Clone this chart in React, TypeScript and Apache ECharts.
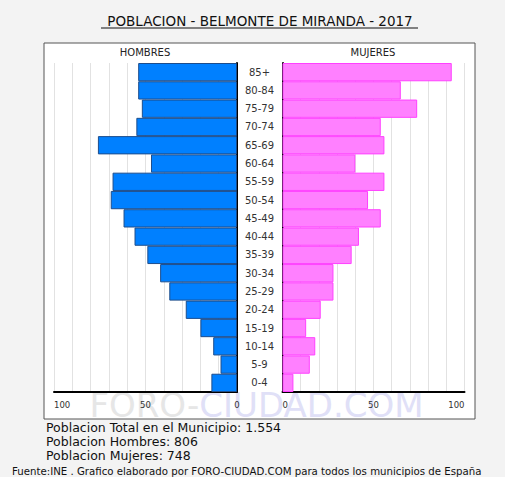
import React, { useEffect, useRef } from "react";
import * as echarts from "echarts";

const ageGroups = ["0-4","5-9","10-14","15-19","20-24","25-29","30-34","35-39","40-44","45-49","50-54","55-59","60-64","65-69","70-74","75-79","80-84","85+"];
const hombres = [14, 9, 13, 20, 28, 37, 42, 49, 56, 62, 69, 68, 47, 76, 55, 52, 54, 54];
const mujeres = [6, 15, 18, 13, 21, 28, 28, 38, 42, 54, 47, 56, 40, 56, 54, 74, 65, 93];
const axisTicks = [0, 50, 100];
const titleText = "POBLACION - BELMONTE DE MIRANDA - 2017";
const infoLines = ["Poblacion Total en el Municipio: 1.554", "Poblacion Hombres: 806", "Poblacion Mujeres: 748"];
const footer = "Fuente:INE . Grafico elaborado por FORO-CIUDAD.COM para todos los municipios de España";

const FONT = "DejaVu Sans, Verdana, sans-serif";

export default function App() {
  const ref = useRef<HTMLDivElement>(null);
  useEffect(() => {
    if (!ref.current) return;
    const chart = echarts.init(ref.current, undefined, { renderer: "svg" });
    const labelFmt = (v: number) => (axisTicks.indexOf(v) >= 0 ? String(v) : "");
    const xCommon = {
      type: "value",
      min: 0,
      max: 100,
      interval: 10,
      axisTick: { show: false },
      axisLine: { show: true, lineStyle: { color: "#000", width: 2 } },
      splitLine: { show: true, lineStyle: { color: "#e2e2e2", width: 1 } },
      axisLabel: { formatter: labelFmt, fontSize: 8.5, color: "#333", fontFamily: FONT, margin: 8 },
    };
    chart.setOption({
      animation: false,
      backgroundColor: "#f3f3f3",
      graphic: [
        { type: "rect", z: -10, shape: { x: 44, y: 43, width: 431, height: 376 }, style: { fill: "#fff", stroke: "#555", lineWidth: 1 } },
        {
          type: "text", z: -5, x: 256.5, y: 405,
          style: {
            text: "{a|FORO-}{b|CIUDAD.COM}", align: "center", verticalAlign: "middle",
            rich: {
              a: { fontSize: 34, fontFamily: FONT, fill: "#e6e6e6" },
              b: { fontSize: 34, fontFamily: FONT, fill: "#e0e0f7" },
            },
          },
        },
        { type: "text", x: 260, y: 21, style: { text: titleText, fontSize: 13.5, fontFamily: FONT, fill: "#111", align: "center", verticalAlign: "middle" } },
        { type: "line", shape: { x1: 101, y1: 28, x2: 418, y2: 28 }, style: { stroke: "#111", lineWidth: 1.2 } },
        { type: "text", x: 145, y: 52, style: { text: "HOMBRES", fontSize: 10, fontFamily: FONT, fill: "#222", align: "center", verticalAlign: "middle" } },
        { type: "text", x: 373, y: 52, style: { text: "MUJERES", fontSize: 10, fontFamily: FONT, fill: "#222", align: "center", verticalAlign: "middle" } },
        ...infoLines.map((t, i) => ({
          type: "text", x: 46, y: 427 + i * 14.2,
          style: { text: t, fontSize: 12.5, fontFamily: FONT, fill: "#111", align: "left", verticalAlign: "middle" },
        })),
        { type: "text", x: 12, y: 471, style: { text: footer, fontSize: 10.2, fontFamily: FONT, fill: "#111", align: "left", verticalAlign: "middle" } },
      ],
      grid: [
        { left: 54, right: 268, top: 63, bottom: 85 },
        { left: 282.5, right: 40.5, top: 63, bottom: 85 },
      ],
      xAxis: [
        { ...xCommon, gridIndex: 0, inverse: true, axisLabel: { ...xCommon.axisLabel, alignMaxLabel: "left" } },
        { ...xCommon, gridIndex: 1, axisLabel: { ...xCommon.axisLabel, alignMinLabel: "left", alignMaxLabel: "right" } },
      ],
      yAxis: [
        {
          type: "category", gridIndex: 0, data: ageGroups, position: "right",
          axisLine: { show: true, lineStyle: { color: "#000", width: 2 } },
          axisTick: { show: false }, axisLabel: { show: false }, splitLine: { show: false },
        },
        {
          type: "category", gridIndex: 1, data: ageGroups, position: "left",
          axisLine: { show: true, lineStyle: { color: "#000", width: 2 } },
          axisTick: { show: false }, splitLine: { show: false },
          axisLabel: { align: "center", margin: 23, fontSize: 10, color: "#333", fontFamily: FONT, interval: 0 },
        },
      ],
      series: [
        {
          type: "bar", xAxisIndex: 0, yAxisIndex: 0, data: hombres, barCategoryGap: "0%",
          itemStyle: { color: "#0080ff", borderColor: "#1d4d8c", borderWidth: 1 },
        },
        {
          type: "bar", xAxisIndex: 1, yAxisIndex: 1, data: mujeres, barCategoryGap: "0%",
          itemStyle: { color: "#ff80ff", borderColor: "#ff40ff", borderWidth: 1 },
        },
      ],
    });
    return () => chart.dispose();
  }, []);
  return <div ref={ref} style={{ position: "fixed", left: 0, top: 0, width: 505, height: 477 }} />;
}
